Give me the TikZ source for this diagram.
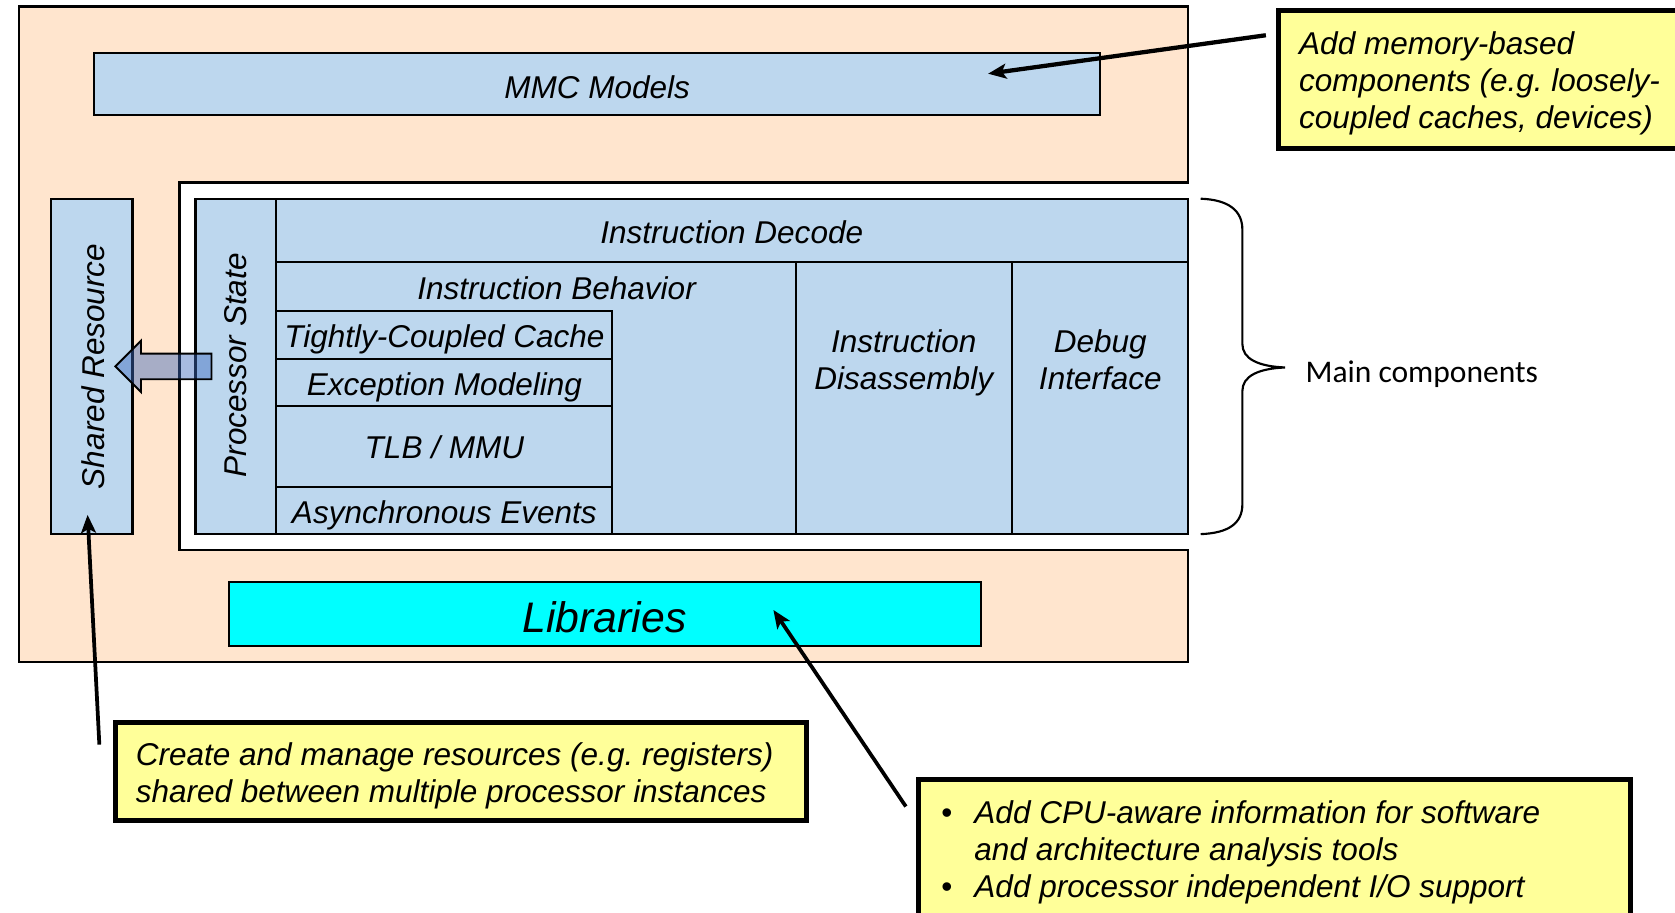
\documentclass[tikz,border=0pt]{standalone}
\usepackage{fontspec}
\setmainfont{Liberation Sans}
\newfontfamily\bracefont{Carlito}
\usetikzlibrary{fit,arrows.meta}

\definecolor{peach}{RGB}{255,229,206}
\definecolor{paleblue}{RGB}{189,215,238}
\definecolor{notey}{RGB}{255,255,153}
\definecolor{libcyan}{RGB}{0,255,255}
\definecolor{flowblue}{RGB}{60,105,190}

\begin{document}
\begin{tikzpicture}[x=1pt,y=-1pt,
  lbl/.style={font=\fontsize{29.5}{34.5}\selectfont\itshape\frenchspacing, inner sep=0pt, align=center},
  baselbl/.style={lbl, anchor=base},
  blk/.style={draw, line width=2pt, fill=paleblue, inner sep=0pt},
  notebox/.style={draw, line width=4.5pt, fill=notey, inner sep=0pt},
  notetext/.style={anchor=north west, inner sep=0pt, align=left,
    font=\fontsize{29.5}{35}\selectfont\itshape\frenchspacing},
  callarrow/.style={line width=3.5pt, -{Stealth[length=17pt,width=14pt,inset=4pt]}},
]
\useasboundingbox (0,0) rectangle (1568,854);
\clip (0,0) rectangle (1568,854);
\fill[white] (0,0) rectangle (1568,854);

% simulator frame around the processor model
\draw[line width=2.2pt, fill=peach]
  (18,6) -- (1112,6) -- (1112,171) -- (168,171) -- (168,515)
  -- (1112,515) -- (1112,620) -- (18,620) -- cycle;

% memory models
\node[blk, fit={(88,50) (1030,108)}] (mmc) {};
\node[baselbl] (mmctext) at (559,92) {MMC Models};

% shared resources
\node[blk, fit={(48,186) (124,500)}] (shared) {};
\node[lbl, rotate=90] (sharedtext) at (87,343) {Shared Resource};

% processor model blocks
\node[blk, fit={(183,186) (258,500)}] (pstate) {};
\node[lbl, rotate=90] (pstatetext) at (221,342) {Processor State};

\node[blk, fit={(258,186) (1112,245)}] (decode) {};
\node[baselbl] (decodetext) at (685,228) {Instruction Decode};

\node[blk, fit={(258,245) (745,500)}] (behav) {};
\node[baselbl] (behavtext) at (521,280) {Instruction Behavior};

\node[blk, fit={(258,291) (573,336)}] (tcc) {};
\node[baselbl] (tcctext) at (416,325) {Tightly-Coupled Cache};
\node[blk, fit={(258,336) (573,380)}] (exc) {};
\node[baselbl] (exctext) at (416,370) {Exception Modeling};
\node[blk, fit={(258,380) (573,456)}] (tlb) {};
\node[baselbl] (tlbtext) at (416,429) {TLB / MMU};
\node[blk, fit={(258,456) (573,500)}] (async) {};
\node[baselbl] (asynctext) at (416,490) {Asynchronous Events};

\node[blk, fit={(745,245) (947,500)}] (disasm) {};
\node[lbl] (disasmtext) at (846,339.5) {Instruction\\Disassembly};
\node[blk, fit={(947,245) (1112,500)}] (debug) {};
\node[lbl] (debugtext) at (1030,337) {Debug\\Interface};

% libraries
\node[blk, fill=libcyan, fit={(214,545) (918,605)}] (libs) {};
\node[baselbl, font=\fontsize{40}{46}\selectfont\itshape] (libstext) at (566,592) {Libraries};

% processor state uses shared resources
\path[draw=black, line width=1.8pt, fill=flowblue, fill opacity=0.45]
  (198,331) -- (132,331) -- (132,319) -- (108,343) -- (132,367)
  -- (132,355) -- (198,355) -- cycle;

% brace around the main components
\draw[line width=2pt]
  (1124,186) .. controls (1150,187) and (1163,197) .. (1163,215)
  -- (1163,322) .. controls (1163,336) and (1178,343) .. (1203,344)
  .. controls (1178,345) and (1163,352) .. (1163,366)
  -- (1163,472) .. controls (1163,490) and (1150,499) .. (1124,500);
\node[anchor=base west, inner sep=0pt, font=\bracefont\fontsize{29.5}{34}\selectfont]
  (maintext) at (1222,358) {Main components};

% callouts
\node[notebox, fit={(1197,10) (1620,139)}] (note1) {};
\node[notetext] (note1text) at (1216,29)
  {Add memory-based\\components (e.g. loosely-\\coupled caches, devices)};

\node[notebox, fit={(108,676) (755,768)}] (note2) {};
\node[notetext] (note2text) at (127,695)
  {Create and manage resources (e.g. registers)\\shared between multiple processor instances};

\node[notebox, fit={(860,730) (1526,900)}] (note3) {};
\node[notetext] (note3text) at (881,749)
  {\makebox[31pt][l]{\upshape\textbullet}Add CPU-aware information for software\\
   \hspace*{31pt}and architecture analysis tools\\
   \makebox[31pt][l]{\upshape\textbullet}Add processor independent I/O support};

% callout pointers
\coordinate (n1tail) at (1185,33);
\coordinate (n1tip) at (925,69);
\coordinate (n2tail) at (93,697);
\coordinate (n2tip) at (82,482);
\coordinate (n3tail) at (848,755);
\coordinate (n3tip) at (724,571);
\draw[callarrow, line width=4pt] (n1tail) -- (n1tip);
\draw[callarrow] (n2tail) -- (n2tip);
\draw[callarrow] (n3tail) -- (n3tip);
\end{tikzpicture}
\end{document}
